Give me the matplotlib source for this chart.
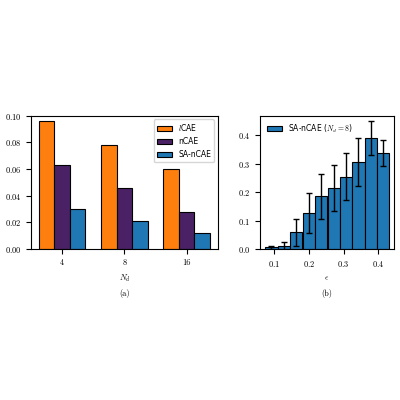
import matplotlib
matplotlib.use("Agg")
import matplotlib.pyplot as plt
import numpy as np

plt.rcParams['font.family'] = 'serif'
plt.rcParams['font.serif'] = ['cmr10', 'DejaVu Serif']
plt.rcParams['mathtext.fontset'] = 'cm'
plt.rcParams['axes.formatter.use_mathtext'] = True
plt.rcParams['font.size'] = 6

# panel (a)
n_d_labels = ['4', '8', '16']
lcae = [0.096, 0.078, 0.060]
ncae = [0.063, 0.046, 0.028]
sa_ncae = [0.030, 0.021, 0.012]

# panel (b)
eps = [0.093, 0.129, 0.164, 0.200, 0.236, 0.272, 0.307, 0.343, 0.379, 0.414]
err_mean = [0.006, 0.012, 0.060, 0.127, 0.186, 0.215, 0.255, 0.307, 0.392, 0.338]
err_std = [0.007, 0.015, 0.047, 0.070, 0.079, 0.081, 0.083, 0.085, 0.060, 0.045]

fig = plt.figure(figsize=(4, 4), dpi=100)
ax1 = fig.add_axes([0.0775, 0.377, 0.467, 0.334])
ax2 = fig.add_axes([0.65, 0.377, 0.335, 0.334])

x = np.arange(len(n_d_labels))
w = 0.25
kw = dict(edgecolor='black', linewidth=0.8)
ax1.bar(x - w, lcae, w, color='#ff7f0e', label=r'$l$CAE', **kw)
ax1.bar(x, ncae, w, color='#4b2165', label='nCAE', **kw)
ax1.bar(x + w, sa_ncae, w, color='#1f77b4', label='SA-nCAE', **kw)
ax1.set_xticks(x)
ax1.set_xticklabels(n_d_labels)
ax1.set_ylim(0, 0.1)
ax1.set_xlim(-0.5, 2.5)
ax1.set_xlabel(r'$N_d$')
ax1.set_ylabel(r'$\mathbb{E}[||\hat{\mathbf{u}}-\mathbf{u}||_2^2]$')
ax1.yaxis.set_label_coords(-0.2, 0.5)
ax1.legend(loc='upper right', prop={'family': 'DejaVu Sans', 'size': 5.5})
ax1.text(0.5, -0.3, '(a)', transform=ax1.transAxes, ha='center', va='top')

ax2.bar(eps, err_mean, width=0.0357, color='#1f77b4', yerr=err_std, capsize=2,
        error_kw=dict(elinewidth=1, capthick=1), label=r'SA-nCAE ($N_d = 8$)', **kw)
ax2.set_xlim(0.06, 0.445)
ax2.set_ylim(0, 0.47)
ax2.set_xticks([0.1, 0.2, 0.3, 0.4])
ax2.set_yticks([0.0, 0.1, 0.2, 0.3, 0.4])
ax2.set_xlabel(r'$\epsilon$')
ax2.legend(loc='upper left', prop={'family': 'DejaVu Sans', 'size': 5.5}, frameon=False)
ax2.text(0.5, -0.3, '(b)', transform=ax2.transAxes, ha='center', va='top')

fig.savefig('out.png', dpi=100)
